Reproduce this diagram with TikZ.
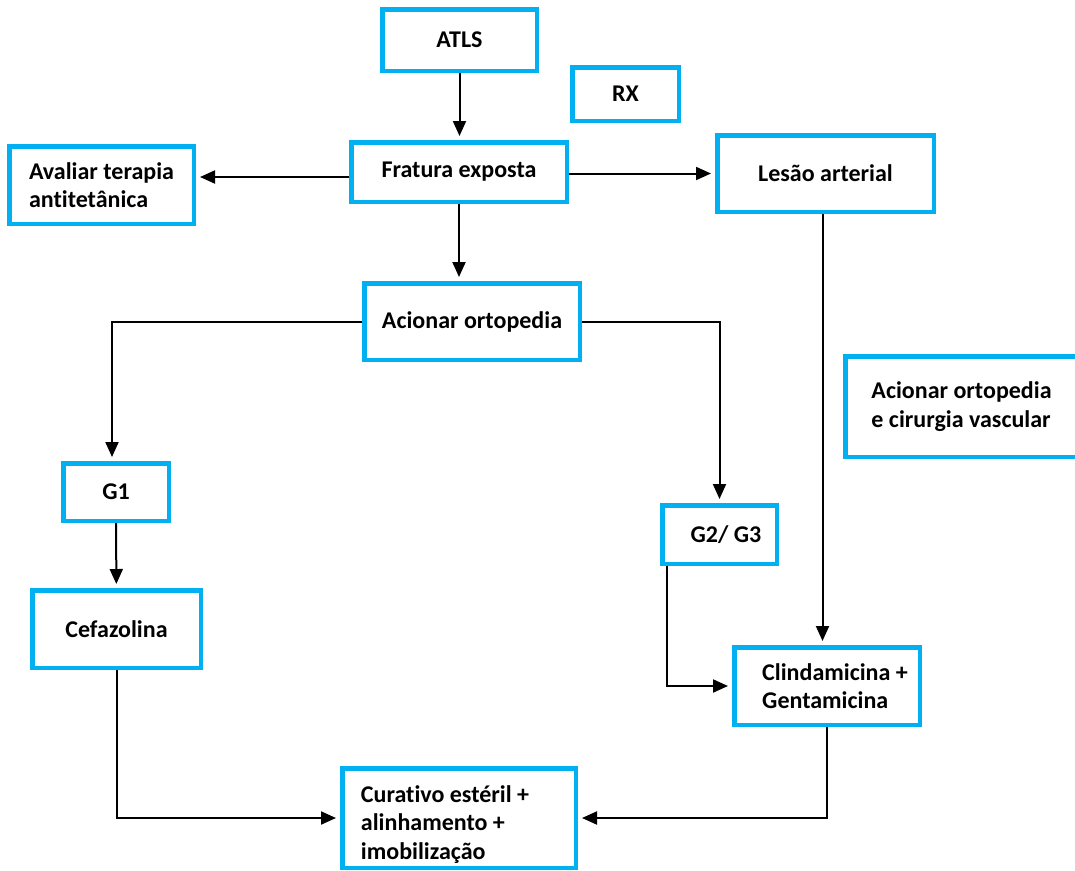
\documentclass[tikz,border=0pt]{standalone}
\usepackage{fontspec}
\setmainfont{Carlito}[Ligatures=NoCommon]
\usetikzlibrary{arrows.meta}
\definecolor{boxblue}{HTML}{00B0F0}
\begin{document}
\begin{tikzpicture}[x=1pt,y=-1pt,
  box/.style={draw=boxblue, line width=4.5pt, rectangle, inner sep=0pt,
    font=\fontsize{24}{28.5}\selectfont\bfseries, text=black, align=center},
  arr/.style={draw=black, line width=2pt, -{Triangle[length=15pt,width=13pt]}, shorten >=4pt}]
\useasboundingbox (0,0) rectangle (1075,870);
\clip (0,0) rectangle (1075,870);
\fill[white] (0,0) rectangle (1075,870);
% boxes
\node[box, minimum width=154.5pt, minimum height=61.5pt] (atls) at (459.5,40) {ATLS};
\node[box, minimum width=215.5pt, minimum height=59.5pt] (frat) at (459,172) {Fratura exposta};
\node[box, minimum width=184.5pt, minimum height=77.5pt, align=left] (aval) at (101.5,185) {Avaliar terapia\\antitetânica};
\node[box, minimum width=106.5pt, minimum height=53.5pt] (rx) at (625.5,94) {RX};
\node[box, minimum width=216.5pt, minimum height=76.5pt] (les) at (825.5,173.5) {Lesão arterial};
\node[box, minimum width=232.5pt, minimum height=100.5pt, align=left] (acov) at (961.5,406.5) {Acionar ortopedia\\e cirurgia vascular};
\node[box, minimum width=215.5pt, minimum height=76.5pt] (acor) at (472,321.5) {Acionar ortopedia};
\node[box, minimum width=105.5pt, minimum height=57.5pt] (g1) at (116,492) {G1};
\node[box, minimum width=168.5pt, minimum height=77.5pt] (cef) at (116.5,629) {Cefazolina};
\node[box, minimum width=114.5pt, minimum height=58.5pt] (g23) at (719.5,534.5) {\hspace*{13pt}G2/ G3};
\node[box, minimum width=185.5pt, minimum height=77.5pt, align=left] (cli) at (827,686) {\hspace*{16pt}Clindamicina +\\\hspace*{16pt}Gentamicina};
\node[box, minimum width=233.5pt, minimum height=99.5pt, align=left] (cur) at (459,818) {\rule{0pt}{30pt}Curativo estéril +\hspace*{28pt}\\alinhamento +\\imobilização};
% connectors
\coordinate (c177) at (0,177);
\draw[arr] (atls.south) -- (atls.south |- frat.north);
\draw[arr] (frat.west |- c177) -- (aval.east |- c177);
\draw[arr] (frat.east |- les.west) -- (les.west);
\draw[arr] (frat.south) -- (frat.south |- acor.north);
\draw[arr] (acor.west) -| ([xshift=-4pt]g1.north);
\draw[arr] (acor.east) -| (g23.north);
\draw[arr] (g1) -- (cef);
\draw[arr] (cef.south) |- (cur.west);
\draw[arr] ([xshift=7pt]g23.south west) |- (cli.west);
\draw[arr] ([xshift=-3pt]les.south) -- ([xshift=-3pt]les.south |- cli.north);
\draw[arr] (cli.south) |- (cur.east);
\end{tikzpicture}
\end{document}
